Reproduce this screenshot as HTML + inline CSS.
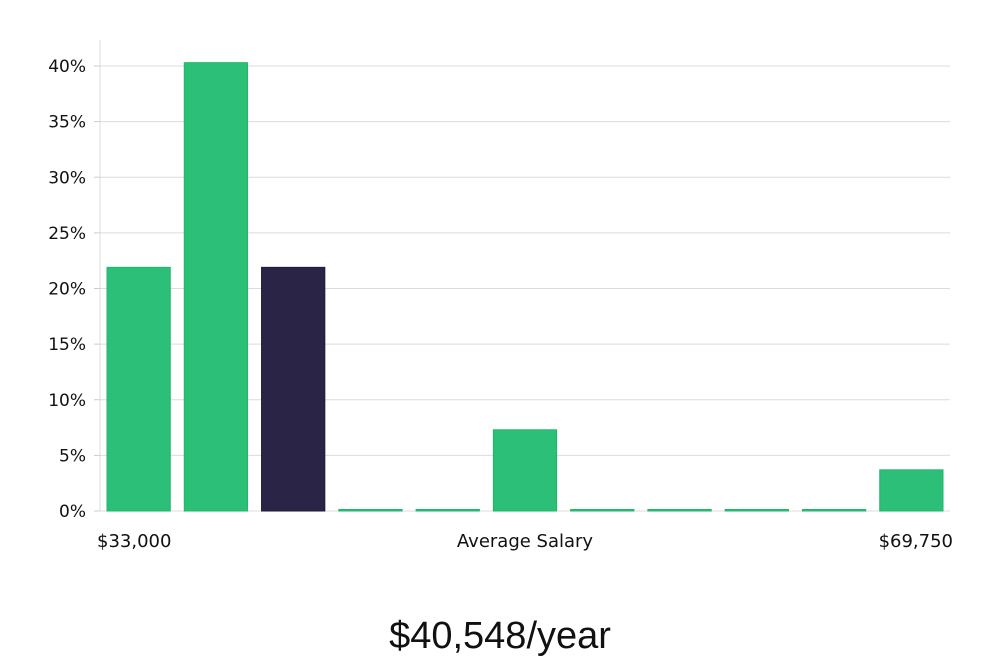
<!DOCTYPE html>
<html><head><meta charset="utf-8"><style>
body{margin:0;background:#fff;width:1000px;height:660px;overflow:hidden}
svg{display:block}
</style></head><body>
<svg id="chart" width="1000" height="660" xmlns="http://www.w3.org/2000/svg" font-family="DejaVu Sans, Liberation Sans, sans-serif"></svg>
<script>
const categories = ["b1","b2","b3","b4","b5","b6","b7","b8","b9","b10","b11"];
const values = [21.9, 40.3, 21.9, 0, 0, 7.3, 0, 0, 0, 0, 3.7];
const highlight = [false,false,true,false,false,false,false,false,false,false,false];
const yTicks = [0,5,10,15,20,25,30,35,40];
const xLabels = ["$33,000","Average Salary","$69,750"];
const title = "$40,548/year";

const svg = document.getElementById('chart');
const NS = 'http://www.w3.org/2000/svg';
const left = 100, right = 950, y0 = 511, yTop = 66;
const y = v => y0 - (v/40)*(y0-yTop);
const step = (right-left)/categories.length;
const x = i => left + i*step;
function mk(tag, attrs){const e=document.createElementNS(NS,tag);for(const k in attrs)e.setAttribute(k,attrs[k]);svg.appendChild(e);return e;}

const axis = mk('line',{x1:left,y1:40,x2:left,y2:y0,stroke:'#ddd','stroke-width':1});


yTicks.forEach(t=>{
  const g = mk('line',{x1:left,y1:y(t),x2:right,y2:y(t),stroke:'#dcdcdc','stroke-width':1});
  
  
  const tk = mk('line',{x1:left-6,y1:y(t),x2:left,y2:y(t),stroke:'#ccc','stroke-width':1});
  
  
  const tx = mk('text',{x:left-14,y:y(t)+6,'text-anchor':'end','font-size':17,fill:'#111'});
  tx.textContent = t+'%';
  
  
});
values.forEach((v,i)=>{
  const bx = x(i)+7, bw = step-14;
  const h = Math.max(y0-y(v), 1.5);
  const r = mk('rect',{x:bx,y:y0-h,width:bw,height:h,fill:highlight[i]?'#2a2547':'#2bbf78',stroke:highlight[i]?'#1e1a3a':'#22b56c','stroke-width':1});
  
  
});
const xl = [[97,'start'],[525,'middle'],[953,'end']];
xLabels.forEach((l,i)=>{
  const t = mk('text',{x:xl[i][0],y:547,'text-anchor':xl[i][1],'font-size':18,fill:'#111'});
  t.textContent = l;
  
  
});
const tt = mk('text',{x:500,y:648,'text-anchor':'middle','font-size':38,fill:'#111','font-family':'Liberation Sans, sans-serif'});
tt.textContent = title;


</script>
</body></html>
